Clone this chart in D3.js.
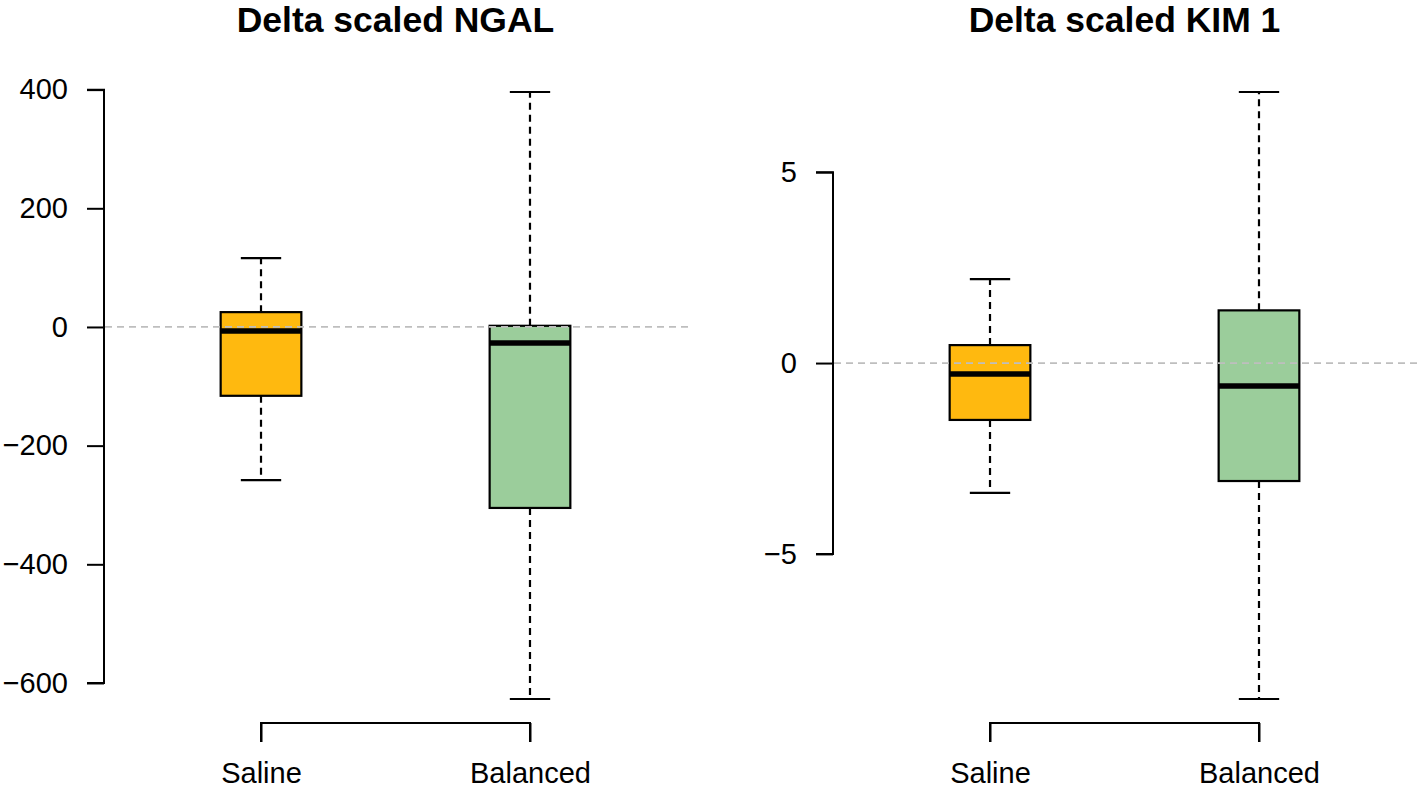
<!DOCTYPE html>
<html><head><meta charset="utf-8">
<script src="https://cdn.jsdelivr.net/npm/d3@7"></script>
<style>body{margin:0;background:#fff}svg{display:block}text{font-family:"Liberation Sans",Arial,sans-serif}</style>
</head><body>
<script>
const categories = ["Saline", "Balanced"];
const fillColors = ["#FFB90F", "#9BCD9B"];
const titles = ["Delta scaled NGAL", "Delta scaled KIM 1"];
// five-number summaries per group: [lowerWhisker, Q1, median, Q3, upperWhisker]
const ngalSaline = [-258, -116, -7, 25, 116];
const ngalBalanced = [-627, -305, -27, 2, 396];
const kimSaline = [-3.4, -1.49, -0.29, 0.47, 2.2];
const kimBalanced = [-8.8, -3.09, -0.6, 1.38, 7.1];
const ngalTicks = [-600, -400, -200, 0, 200, 400];
const kimTicks = [-5, 0, 5];
const ngalDomain = [-627, 396];
const kimDomain = [-8.8, 7.1];

const W = 1418, H = 790;
const svg = d3.select("body").append("svg").attr("width", W).attr("height", H);

const panels = [
  {title: titles[0], data: [ngalSaline, ngalBalanced], ticks: ngalTicks, domain: ngalDomain, x0: 105, x1: 686},
  {title: titles[1], data: [kimSaline, kimBalanced], ticks: kimTicks, domain: kimDomain, x0: 834, x1: 1415}
];
const FONT = "Liberation Sans, Arial, sans-serif";

panels.forEach(p => {
  const g = svg.append("g");
  const x = d3.scaleLinear().domain([0.42, 2.58]).range([p.x0, p.x1]);
  const y = d3.scaleLinear().domain(p.domain).range([699, 92]);
  // title
  g.append("text").attr("x", (p.x0 + p.x1) / 2).attr("y", 32).attr("text-anchor", "middle")
    .attr("font-weight", "bold").attr("font-size", 35.5).attr("fill", "#000").text(p.title);
  // y axis
  const yAxis = d3.axisLeft(y).tickValues(p.ticks).tickSize(17).tickPadding(19)
    .tickFormat(d => d < 0 ? "\u2212" + Math.abs(d) : d);
  const ya = g.append("g").attr("transform", `translate(${p.x0 - 1},0)`).call(yAxis);
  ya.select(".domain").attr("d", `M-17,${y(p.ticks[0])}H0V${y(p.ticks[p.ticks.length-1])}H-17`).attr("stroke-width", 2);
  ya.selectAll(".tick line").attr("stroke-width", 2);
  ya.selectAll(".tick text").attr("font-size", 29).attr("fill", "#000").attr("font-family", FONT);
  // x axis bracket
  const xAxis = d3.axisBottom(x).tickValues([1, 2]).tickSize(19).tickPadding(20)
    .tickFormat(d => categories[d - 1]);
  const xa = g.append("g").attr("transform", "translate(0,723)").call(xAxis);
  xa.select(".domain").attr("d", `M${x(1)},19V0H${x(2)}V19`).attr("stroke-width", 2);
  xa.selectAll(".tick line").attr("stroke-width", 2);
  xa.selectAll(".tick text").attr("font-size", 29).attr("fill", "#000").attr("font-family", FONT);
  // boxes
  p.data.forEach((d, i) => {
    const cx = x(i + 1);
    const bl = x(i + 1 - 0.15), br = x(i + 1 + 0.15);
    const cl = x(i + 1 - 0.075), cr = x(i + 1 + 0.075);
    // whiskers
    g.append("line").attr("x1", cx).attr("x2", cx).attr("y1", y(d[3])).attr("y2", y(d[4]))
      .attr("stroke", "#000").attr("stroke-width", 2.2).attr("stroke-dasharray", "7,5");
    g.append("line").attr("x1", cx).attr("x2", cx).attr("y1", y(d[1])).attr("y2", y(d[0]))
      .attr("stroke", "#000").attr("stroke-width", 2.2).attr("stroke-dasharray", "7,5");
    // caps
    [d[0], d[4]].forEach(v => g.append("line").attr("x1", cl).attr("x2", cr).attr("y1", y(v)).attr("y2", y(v))
      .attr("stroke", "#000").attr("stroke-width", 2.2));
    // box
    g.append("rect").attr("x", bl).attr("width", br - bl).attr("y", y(d[3])).attr("height", y(d[1]) - y(d[3]))
      .attr("fill", fillColors[i]).attr("stroke", "#000").attr("stroke-width", 2.2);
    // median
    g.append("line").attr("x1", bl).attr("x2", br).attr("y1", y(d[2])).attr("y2", y(d[2]))
      .attr("stroke", "#000").attr("stroke-width", 5.5);
  });
  // zero reference line (drawn over boxes)
  g.append("line").attr("x1", p.x0).attr("x2", p.x1 + 3).attr("y1", y(0)).attr("y2", y(0))
    .attr("stroke", "#BEBEBE").attr("stroke-width", 1.8).attr("stroke-dasharray", "7,5");
});
</script>
</body></html>
